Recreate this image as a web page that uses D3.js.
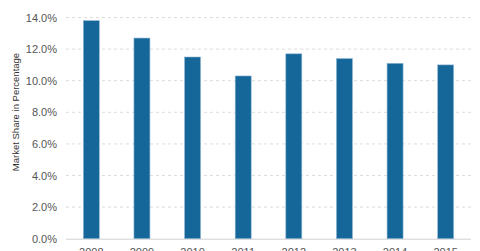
<!DOCTYPE html>
<html><head><meta charset="utf-8">
<script src="https://cdn.jsdelivr.net/npm/d3@7"></script>
<style>body{margin:0;background:#fff}svg{display:block}</style>
</head><body><svg id="c" width="480" height="251"></svg>
<script>
const years = ["2008","2009","2010","2011","2012","2013","2014","2015"];
const share = [13.8, 12.7, 11.5, 10.3, 11.7, 11.4, 11.1, 11.0];
const yTicks = [0, 2, 4, 6, 8, 10, 12, 14];

const svg = d3.select("#c");
const x = d3.scaleBand().domain(years).range([66, 471]).paddingInner(0.684).paddingOuter(0.342);
const y = d3.scaleLinear().domain([0, 14]).range([238.7, 17.5]);

svg.append("g").selectAll("line").data(yTicks.filter(d => d > 0)).join("line")
  .attr("x1", 66).attr("x2", 471)
  .attr("y1", d => y(d)).attr("y2", d => y(d))
  .attr("stroke", "#dcdcdc").attr("stroke-dasharray", "3,3");

svg.append("line").attr("x1", 66).attr("x2", 471).attr("y1", y(0)+0.5).attr("y2", y(0)+0.5)
  .attr("stroke", "#d0d0d0");

svg.append("g").selectAll("rect").data(years).join("rect")
  .attr("x", d => x(d)).attr("width", x.bandwidth())
  .attr("y", (d, i) => y(share[i])).attr("height", (d, i) => y(0) - y(share[i]))
  .attr("fill", "#156699").attr("stroke", "#8fb8d6").attr("stroke-width", 0.6);

const yAxis = svg.append("g").attr("transform", "translate(57,0)")
  .call(d3.axisLeft(y).tickValues(yTicks).tickSize(0).tickPadding(0).tickFormat(d => d.toFixed(1) + "%"));
yAxis.select(".domain").remove();
yAxis.selectAll("text").attr("font-family", "Liberation Sans, Arial, sans-serif").attr("font-size", 11).attr("fill", "#555");

const xAxis = svg.append("g").attr("transform", `translate(0,${y(0)})`)
  .call(d3.axisBottom(x).tickSize(0).tickPadding(10));
xAxis.select(".domain").remove();
xAxis.selectAll("text").attr("font-family", "Liberation Sans, Arial, sans-serif").attr("font-size", 11).attr("fill", "#555");

svg.append("text").attr("transform", "translate(19,112) rotate(-90)")
  .attr("text-anchor", "middle").attr("font-family", "Liberation Sans, Arial, sans-serif")
  .attr("font-size", 9.5).attr("fill", "#333").text("Market Share in Percentage");
</script></body></html>
